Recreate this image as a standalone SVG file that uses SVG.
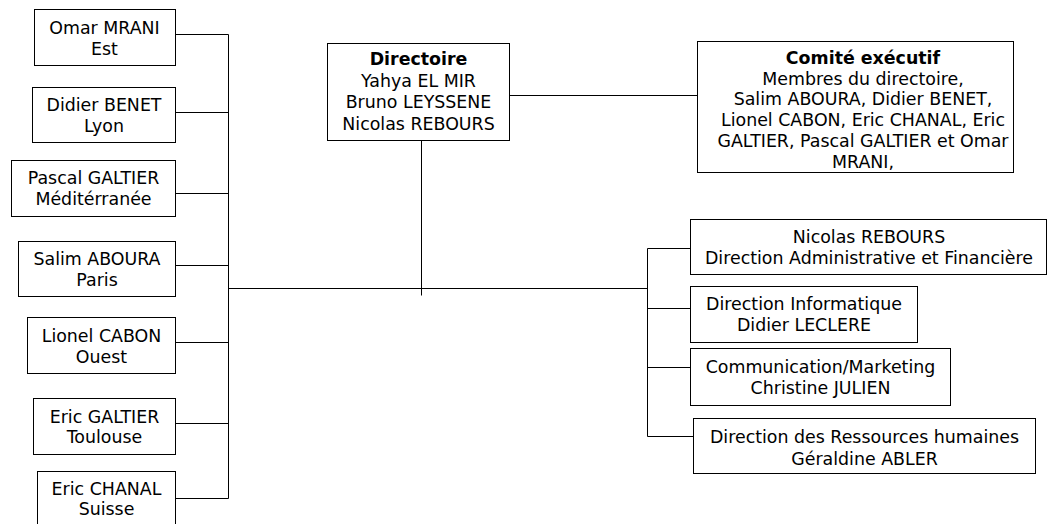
<svg xmlns="http://www.w3.org/2000/svg" width="1048" height="524" viewBox="0 0 1048 524">
<style>
.box{fill:#fff;stroke:#000;stroke-width:1}
.ln{fill:none;stroke:#000;stroke-width:1}
text{font-family:"DejaVu Sans",Verdana,sans-serif;font-size:17.4px;fill:#000;text-anchor:middle}
.b{font-weight:bold}
</style>
<rect width="1048" height="524" fill="#fff"/>
<g id="connectors">
<path class="ln" d="M175.5 34.5H228.5V498.5H175.5M175.5 112.5H228.5M175.5 193.5H228.5M175.5 265.5H228.5M175.5 342.5H228.5M175.5 423.5H228.5M228.5 288.5H647.5"/>
<path class="ln" d="M421.5 140.5V295.5"/>
<path class="ln" d="M509.5 95.5H697.5"/>
<path class="ln" d="M690.5 248.5H647.5V436.5H693.5M647.5 308.5H690.5M647.5 367.5H690.5"/>
</g>
<g id="omar"><rect class="box" x="34.5" y="9.5" width="141" height="56"/><text x="104.5" y="34">Omar MRANI</text><text x="104.5" y="55">Est</text></g>
<g id="didier"><rect class="box" x="32.5" y="87.5" width="143" height="55"/><text x="104" y="111">Didier BENET</text><text x="104" y="132">Lyon</text></g>
<g id="pascal"><rect class="box" x="11.5" y="160.5" width="164" height="56"/><text x="93.5" y="184">Pascal GALTIER</text><text x="93.5" y="205">Méditérranée</text></g>
<g id="salim"><rect class="box" x="18.5" y="241.5" width="157" height="55"/><text x="97" y="265">Salim ABOURA</text><text x="97" y="286">Paris</text></g>
<g id="lionel"><rect class="box" x="27.5" y="317.5" width="148" height="56"/><text x="101.5" y="342">Lionel CABON</text><text x="101.5" y="363">Ouest</text></g>
<g id="ericg"><rect class="box" x="33.5" y="398.5" width="142" height="56"/><text x="104.5" y="423">Eric GALTIER</text><text x="104.5" y="443">Toulouse</text></g>
<g id="ericc"><rect class="box" x="37.5" y="471.5" width="138" height="60"/><text x="106.5" y="495">Eric CHANAL</text><text x="106.5" y="515">Suisse</text></g>
<g id="directoire"><rect class="box" x="327.5" y="43.5" width="182" height="97"/><text class="b" x="418.5" y="65">Directoire</text><text x="418.5" y="86.5">Yahya EL MIR</text><text x="418.5" y="108">Bruno LEYSSENE</text><text x="418.5" y="129.5">Nicolas REBOURS</text></g>
<g id="comite"><rect class="box" x="697.5" y="41.5" width="316" height="131"/><text class="b" x="863" y="64">Comité exécutif</text><text x="863" y="84.7">Membres du directoire,</text><text x="863" y="105.4">Salim ABOURA, Didier BENET,</text><text x="863" y="126.1">Lionel CABON, Eric CHANAL, Eric</text><text x="863" y="146.8">GALTIER, Pascal GALTIER et Omar</text><text x="863" y="167.5">MRANI,</text></g>
<g id="daf"><rect class="box" x="690.5" y="219.5" width="356" height="55"/><text x="869" y="243">Nicolas REBOURS</text><text x="869" y="264">Direction Administrative et Financière</text></g>
<g id="dsi"><rect class="box" x="690.5" y="286.5" width="227" height="56"/><text x="804" y="310">Direction Informatique</text><text x="804" y="331">Didier LECLERE</text></g>
<g id="com"><rect class="box" x="690.5" y="348.5" width="260" height="57"/><text x="820.5" y="373">Communication/Marketing</text><text x="820.5" y="394">Christine JULIEN</text></g>
<g id="drh"><rect class="box" x="693.5" y="418.5" width="342" height="55"/><text x="864.5" y="443">Direction des Ressources humaines</text><text x="864.5" y="465">Géraldine ABLER</text></g>
</svg>
